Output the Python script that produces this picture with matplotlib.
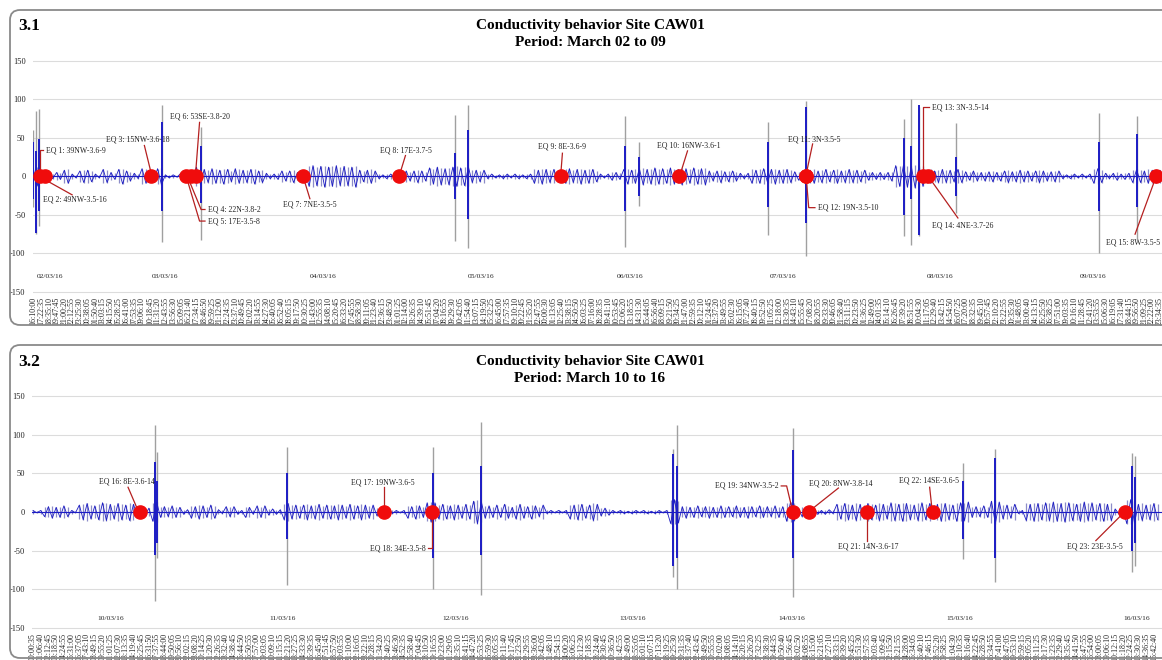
import numpy as np
import pandas as pd
import matplotlib
matplotlib.use("Agg")
import matplotlib.pyplot as plt
from matplotlib.patches import FancyBboxPatch
from matplotlib.transforms import IdentityTransform

plt.rcParams['font.family'] = ['Liberation Serif', 'DejaVu Serif']

# ---------------- panel 3.1 : March 02 to 09 ----------------
# signal read every half time-slot (slot = one x tick label)
signal_1 = [
    10, -12, 7, -6, 4, -3, 5, -4, 8, -9, 3, -2, 7, -8, 8, -7, 3, -2, 9, -8,
    5, -4, 9, -10, 7, -6, 4, -3, 10, -9, 6, -5, 10, -11, 2, -2, 2, -1, 4, -3,
    4, -5, 12, -10, 9, -8, 10, -9, 8, -10, 9, -7, 10, -9, 8, -8, 9, -10, 7, -8,
    4, -3, 3, -4, 7, -6, 7, -8, 5, -4, 5, -13, 14, -12, 13, -14, 12, -13, 14, -12,
    13, -12, 12, -14, 8, -7, 8, -9, 7, -3, 2, -3, 3, -2, 6, -5, 7, -6, 7, -8,
    7, -6, 11, -10, 12, -11, 10, -11, 12, -13, 11, -12, 12, -8, 8, -7, 8, -3, 3, -2,
    2, -3, 3, -2, 3, -3, 2, -3, 3, -9, 8, -10, 9, -8, 9, -6, 6, -9, 10, -8,
    9, -10, 8, -9, 9, -7, 3, -2, 3, -5, 5, -4, 9, -10, 8, -9, 10, -11, 9, -10,
    11, -10, 10, -9, 11, -10, 9, -11, 10, -9, 11, -10, 10, -11, 7, -6, 7, -8, 6, -7,
    7, -6, 4, -3, 4, -9, 8, -9, 10, -8, 9, -10, 8, -9, 9, -8, 6, -5, 6, -8,
    8, -9, 7, -8, 9, -7, 8, -9, 7, -8, 9, -8, 8, -7, 8, -5, 5, -4, 5, -4,
    5, -6, 14, -13, 15, -14, 13, -15, 14, -13, 8, -9, 7, -8, 9, -8, 8, -7, 9, -8,
    6, -5, 7, -6, 5, -6, 6, -7, 5, -6, 7, -8, 6, -7, 8, -7, 7, -6, 7, -8,
    7, -6, 6, -7, 7, -3, 2, -3, 3, -2, 3, -2, 3, -9, 10, -8, 4, -3, 4, -5,
    3, -4, 4, -8, 9, -8, 7, -9, 8, -9, 8, -7,
]
spike_x_1 = [0.0, 0.3, 0.7, 16.6, 21.6, 54.3, 56.0, 76.1, 78.0, 94.6, 99.5,
             112.1, 113.0, 114.0, 118.7, 137.2, 142.0]
spike_hi_1 = [60, 85, 87, 92, 64, 80, 93, 78, 45, 71, 98, 75, 100, 90, 69, 82, 78]
spike_lo_1 = [-40, -75, -65, -85, -82, -84, -93, -91, -38, -76, -103, -78, -89, -78, -47, -99, -83]
core_hi_1 = [44, 33, 49, 70, 40, 30, 60, 40, 25, 45, 90, 50, 40, 93, 25, 45, 55]
core_lo_1 = [-30, -73, -45, -45, -35, -30, -55, -45, -25, -40, -60, -50, -30, -76, -25, -45, -40]

eq_names_1 = ["EQ 1: 39NW-3.6-9", "EQ 2: 49NW-3.5-16", "EQ 3: 15NW-3.6-18",
              "EQ 4: 22N-3.8-2", "EQ 5: 17E-3.5-8", "EQ 6: 53SE-3.8-20",
              "EQ 7: 7NE-3.5-5", "EQ 8: 17E-3.7-5", "EQ 9: 8E-3.6-9",
              "EQ 10: 16NW-3.6-1", "EQ 11: 3N-3.5-5", "EQ 12: 19N-3.5-10",
              "EQ 13: 3N-3.5-14", "EQ 14: 4NE-3.7-26", "EQ 15: 8W-3.5-5"]
eq_x_1 = [0.9, 1.5, 15.2, 19.7, 20.3, 20.9, 34.7, 47.1, 67.9, 83.1, 99.4, 99.5,
          114.5, 115.1, 144.5]
dates_1 = ["02/03/16", "03/03/16", "04/03/16", "05/03/16", "06/03/16",
           "07/03/16", "08/03/16", "09/03/16"]
date_x_1 = [2.2, 16.9, 37.3, 57.6, 76.8, 96.5, 116.7, 136.4]
time_start_1 = "2016-03-02 16:10:00"
time_step_1 = "72min35s"
n_times_1 = 146

# ---------------- panel 3.2 : March 10 to 16 ----------------
signal_2 = [
    2, -1, 2, -6, 7, -8, 6, -7, 8, -6, 2, -1, 9, -10, 11, -9, 8, -10, 12, -11,
    10, -9, 11, -10, 9, -11, 10, -5, 5, -4, 5, -12, 13, -7, 7, -6, 8, -7, 6, -3,
    3, -8, 7, -9, 8, -7, 9, -8, 3, -2, 7, -6, 7, -3, 2, -7, 6, -3, 8, -7,
    8, -4, 4, -3, 3, -10, 11, -9, 9, -8, 9, -10, 8, -9, 10, -8, 9, -9, 8, -10,
    9, -8, 10, -9, 8, -10, 9, -8, 9, -5, 5, -4, 5, -2, 2, -1, 2, -8, 7, -9,
    8, -7, 12, -13, 12, -9, 10, -9, 8, -10, 9, -8, 10, -9, 14, -15, 13, -8, 8, -7,
    9, -7, 10, -8, 6, -9, 10, -8, 7, -9, 8, -6, 9, -2, 2, -1, 2, -1, 2, -9,
    9, -10, 10, -8, 9, -11, 10, -5, 5, -4, 2, -1, 2, -2, 1, -2, 2, -1, 2, -2,
    1, -2, 2, -1, 2, -15, 16, -14, 7, -8, 6, -7, 8, -6, 7, -8, 6, -7, 8, -7,
    7, -6, 8, -7, 6, -8, 7, -6, 8, -7, 7, -6, 8, -7, 7, -12, 13, -11, 5, -6,
    5, -4, 5, -3, 2, -3, 3, -2, 10, -9, 11, -10, 9, -11, 10, -9, 11, -10, 9, -11,
    10, -9, 12, -11, 10, -12, 11, -10, 9, -11, 12, -10, 11, -9, 10, -12, 11, -10, 9, -12,
    12, -11, 13, -7, 7, -6, 8, -7, 14, -15, 13, -9, 9, -8, 10, -2, 2, -11, 10, -12,
    11, -10, 12, -11, 13, -12, 11, -13, 12, -11, 10, -12, 13, -11, 12, -10, 11, -12, 10, -11,
    4, -3, 4, -15, 16, -14, 10, -11, 9, -10, 11, -10,
]
spike_x_2 = [15.8, 16.1, 32.8, 51.8, 57.9, 82.8, 83.3, 98.3, 120.3, 124.5, 142.2, 142.6]
spike_hi_2 = [113, 78, 84, 84, 117, 82, 113, 108, 63, 82, 76, 72]
spike_lo_2 = [-115, -60, -95, -100, -107, -84, -100, -110, -61, -91, -78, -70]
core_hi_2 = [65, 40, 50, 50, 60, 75, 60, 80, 40, 70, 60, 45]
core_lo_2 = [-55, -40, -35, -60, -55, -70, -60, -60, -35, -60, -50, -40]

eq_names_2 = ["EQ 16: 8E-3.6-14", "EQ 17: 19NW-3.6-5", "EQ 18: 34E-3.5-8",
              "EQ 19: 34NW-3.5-2", "EQ 20: 8NW-3.8-14", "EQ 21: 14N-3.6-17",
              "EQ 22: 14SE-3.6-5", "EQ 23: 23E-3.5-5"]
eq_x_2 = [13.8, 45.4, 51.6, 98.3, 100.4, 107.9, 116.4, 141.3]
dates_2 = ["10/03/16", "11/03/16", "12/03/16", "13/03/16", "14/03/16",
           "15/03/16", "16/03/16"]
date_x_2 = [10.0, 32.3, 54.7, 77.6, 98.1, 119.9, 142.8]
time_start_2 = "2016-03-10 00:00:35"
time_step_2 = "66min5s"
n_times_2 = 146

# label placement for the earthquake call-outs: (x, y, ha) and leader path
labels_1 = [(1.6, 34, 'left'), (1.2, -30, 'left'), (13.5, 48, 'center'),
            (22.5, -43, 'left'), (22.5, -58, 'left'), (21.45, 77, 'center'),
            (35.6, -37, 'center'), (47.9, 34, 'center'), (68.1, 38.6, 'center'),
            (84.3, 40, 'center'), (100.5, 47.7, 'center'), (101.0, -40.6, 'left'),
            (115.7, 89.6, 'left'), (115.7, -63.6, 'left'), (141.5, -85.7, 'center')]
leaders_1 = [[(0.9, 0), (0.9, 34), (1.3, 34)], [(1.8, -6), (5.0, -24)],
             [(14.3, 40), (15.2, 3)], [(20.0, -4), (21.6, -43), (22.1, -43)],
             [(19.8, -4), (21.4, -58), (22.1, -58)], [(21.4, 70), (20.9, 5)],
             [(34.9, -6), (35.6, -29)], [(47.9, 27), (47.2, 4)],
             [(68.1, 30), (67.9, 4)], [(84.2, 33), (83.3, 4)],
             [(100.3, 42), (99.5, 4)], [(99.5, -4), (99.8, -40.6), (100.6, -40.6)],
             [(114.5, 4), (114.5, 89.6), (115.3, 89.6)], [(115.4, -3), (119.0, -54)],
             [(144.3, -6), (141.8, -75)]]
labels_2 = [(12.2, 39.8, 'center'), (45.3, 38.5, 'center'), (50.8, -47, 'right'),
            (96.5, 33.7, 'right'), (104.5, 37, 'center'), (108.1, -44.4, 'center'),
            (115.9, 41, 'center'), (137.4, -44, 'center')]
leaders_2 = [[(12.3, 32), (13.5, 4)], [(45.4, 32), (45.4, 4)],
             [(51.6, -4), (51.6, -47), (51.1, -47)],
             [(96.8, 33.7), (97.5, 33.7), (98.2, 4)], [(100.8, 4), (104.2, 31)],
             [(107.9, -4), (107.9, -37)], [(116.0, 32), (116.3, 4)],
             [(140.9, -3), (137.5, -37)]]

W, H = 1162, 660
fig = plt.figure(figsize=(W / 100, H / 100), dpi=100)

BLUE = '#1c1cc4'
FUZZ = '#8c8cc8'
GRAY = '#a0a0a0'
RED = '#f00c0c'
DARKRED = '#b52020'


def draw_panel(ax, signal, sx, shi, slo, chi, clo, eq_x, eq_names, labels, leaders,
               dates, date_x, date_y, t_start, t_step, n_t, x_right):
    ax.set_facecolor('none')
    for v in [150, 100, 50, 0, -50, -100, -150]:
        ax.axhline(v, color='#dcdcdc', lw=0.8, zorder=0)
    x = np.arange(len(signal)) * 0.5
    amp = np.abs(signal)
    # fuzzy envelope of the trace, then the trace itself
    ax.vlines(x, -amp, amp, color=FUZZ, lw=0.9, zorder=1)
    ax.vlines(sx, slo, shi, color=GRAY, lw=1.0, zorder=1)
    ax.plot(x, signal, color=BLUE, lw=0.6, zorder=2)
    ax.axhline(0, color=BLUE, lw=0.8, zorder=2)
    ax.vlines(sx, clo, chi, color=BLUE, lw=1.4, zorder=2)
    for path in leaders:
        px, py = zip(*path)
        ax.plot(px, py, color=DARKRED, lw=0.9, zorder=3)
    ax.plot(eq_x, np.zeros(len(eq_x)), 'o', color=RED, ms=9.5, mec=RED, zorder=4)
    for name, (lx, ly, ha) in zip(eq_names, labels):
        ax.text(lx, ly, name, fontsize=5.6, ha=ha, va='center', color='#222222', zorder=5)
    for d, dx in zip(dates, date_x):
        ax.text(dx, date_y, d, fontsize=5.4, ha='center', va='center', color='#222222')
    times = pd.date_range(t_start, periods=n_t, freq=t_step).strftime('%H:%M:%S')
    ax.set_xticks(np.arange(n_t))
    ax.set_xticklabels(times, rotation=90, fontsize=5.7, color='#222222')
    ax.set_yticks([150, 100, 50, 0, -50, -100, -150])
    ax.set_yticklabels(['150', '100', '50', '0', '-50', '-100', '-150'],
                       fontsize=6, color='#222222')
    ax.tick_params(length=0, pad=2)
    ax.tick_params(axis='y', pad=5)
    ax.set_xlim(-0.1, x_right)
    ax.set_ylim(-153, 153)
    for s in ax.spines.values():
        s.set_visible(False)


# panel frames (pixel coordinates)
for top, bottom in [(10, 325), (345, 658)]:
    box = FancyBboxPatch((10, H - bottom), 1200, bottom - top,
                         boxstyle="round,pad=0,rounding_size=10",
                         transform=IdentityTransform(), fill=False,
                         ec='#8a8a8a', lw=1.3)
    fig.add_artist(box)

ppu1 = (292 - 60.7) / 300
ax1 = fig.add_axes([32.5 / W, 1 - (292 + 3 * ppu1) / H, 1 - 32.5 / W, 306 * ppu1 / H])
draw_panel(ax1, signal_1, spike_x_1, spike_hi_1, spike_lo_1, core_hi_1, core_lo_1,
           eq_x_1, eq_names_1, labels_1, leaders_1, dates_1, date_x_1, -130,
           time_start_1, time_step_1, n_times_1, -0.1 + (W - 32.5) / 7.77)

ppu2 = (628 - 396) / 300
ax2 = fig.add_axes([32.2 / W, 1 - (628 + 3 * ppu2) / H, 1 - 32.2 / W, 306 * ppu2 / H])
draw_panel(ax2, signal_2, spike_x_2, spike_hi_2, spike_lo_2, core_hi_2, core_lo_2,
           eq_x_2, eq_names_2, labels_2, leaders_2, dates_2, date_x_2, -138,
           time_start_2, time_step_2, n_times_2, -0.1 + (W - 32.2) / 7.73)

# headings
for num, y_num, line1, line2, y1, y2 in [
        ("3.1", 25.7, "Conductivity behavior Site CAW01", "Period: March 02 to 09", 25, 43),
        ("3.2", 361.5, "Conductivity behavior Site CAW01", "Period: March 10 to 16", 361, 379)]:
    fig.text(18 / W, 1 - y_num / H, num, fontsize=12.5, fontweight='bold', va='center')
    fig.text(590 / W, 1 - y1 / H, line1, fontsize=11, fontweight='bold',
             ha='center', va='center')
    fig.text(590 / W, 1 - y2 / H, line2, fontsize=11, fontweight='bold',
             ha='center', va='center')

fig.savefig('out.png', dpi=100)
